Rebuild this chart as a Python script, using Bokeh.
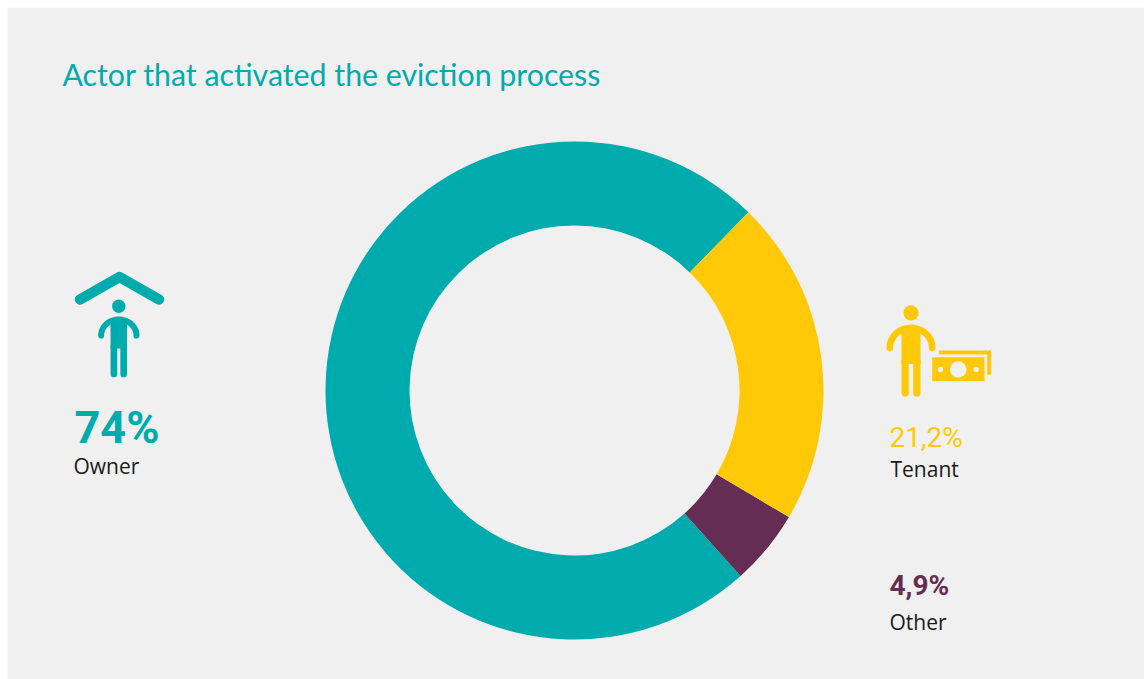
import numpy as np
from bokeh.core.properties import value
from bokeh.embed import file_html
from bokeh.models import ColumnDataSource, Range1d
from bokeh.plotting import figure
from bokeh.resources import INLINE

# Eviction process: who activated it (shares in percent)
categories = ["Owner", "Tenant", "Other"]
shares = [74.0, 21.2, 4.9]
share_labels = ["74%", "21,2%", "4,9%"]
colors = ["#00ABAE", "#FFC907", "#652D53"]
title_text = "Actor that activated the eviction process"

WIDTH, HEIGHT = 1144, 679
PANEL = "#F0F0F0"
TITLE_FONT = "Lato"
NUMBER_FONT = "Roboto"
BODY_FONT = "Open Sans"
BASELINE_SHIFT = 0.38  # the svg text sits this many ems under the requested baseline


def Y(py):
    """Convert a top-down page position to the plot's upward y axis."""
    return HEIGHT - np.asarray(py, dtype=float)


p = figure(width=WIDTH, height=HEIGHT, output_backend="svg", toolbar_location=None,
           x_range=Range1d(0, WIDTH), y_range=Range1d(0, HEIGHT),
           min_border=0, outline_line_color=None, background_fill_color="white",
           border_fill_color="white")
p.axis.visible = False
p.grid.visible = False

# Panel behind the chart
p.quad(left=[7], right=[WIDTH], top=[Y(7)], bottom=[0], fill_color=PANEL, line_color=None)

# Donut: counter-clockwise from the seam 44.3 degrees past north: Owner, Other, Tenant
total = sum(shares)
sweeps = [2 * np.pi * s / total for s in shares]
angle = np.pi / 2 - np.radians(44.3)
wedge_start, wedge_end, wedge_color = [], [], []
for i in [0, 2, 1]:
    wedge_start.append(angle)
    wedge_end.append(angle + sweeps[i])
    wedge_color.append(colors[i])
    angle += sweeps[i]
source = ColumnDataSource(dict(start=wedge_start, end=wedge_end, color=wedge_color))
p.annular_wedge(x=574, y=Y(390), inner_radius=165, outer_radius=249,
                start_angle="start", end_angle="end", fill_color="color",
                line_color=None, source=source)


def person(cx, head_y, head_r, arm_top, hand_y, arm_rx, stroke, body_w, crotch_y, foot_y, leg_w, color):
    """Pictogram of a standing figure: head, curved arms, torso and two legs."""
    t = np.linspace(np.pi, 0, 40)
    p.line(cx + arm_rx * np.cos(t), Y(hand_y - (hand_y - arm_top) * np.sin(t)),
           line_color=color, line_width=stroke, line_cap="round")
    p.ellipse(x=[cx], y=[Y(head_y)], width=2 * head_r, height=2 * head_r,
              fill_color=color, line_color=None)
    p.quad(left=[cx - body_w / 2], right=[cx + body_w / 2], top=[Y(arm_top)],
           bottom=[Y(crotch_y)], fill_color=color, line_color=None)
    offset = body_w / 2 - leg_w / 2
    for side in (-1, 1):
        p.line([cx + side * offset] * 2, Y([crotch_y - 2, foot_y]), line_color=color,
               line_width=leg_w, line_cap="round")


# Owner icon: a figure under a roof
p.line([79.5, 119, 158.5], Y([299, 276.5, 299]), line_color=colors[0], line_width=10.5,
       line_cap="round", line_join="round")
person(118.3, 305.7, 6.7, 319, 335, 17.7, 6, 16.5, 348, 373.5, 6.7, colors[0])

# Tenant icon: a figure beside banknotes
person(910.5, 312.3, 7.6, 327.4, 347.3, 21.2, 6.7, 19, 363.5, 392.5, 7.3, colors[1])
p.line([938.3, 988.7, 988.7], Y([352, 352, 374.3]), line_color=colors[1], line_width=4,
       line_join="miter")
p.quad(left=[931.7], right=[984], top=[Y(356.7)], bottom=[Y(380.7)],
       fill_color=colors[1], line_color=None)
p.ellipse(x=[957.7, 940, 975.7], y=Y([369, 369, 369]), width=[16.6, 5.4, 5.4],
          height=[16.6, 5.4, 5.4], fill_color=PANEL, line_color=None)


def label(x, py, text, size, color, font, style="normal"):
    shifted = py - BASELINE_SHIFT * size
    p.text(x=[x], y=[Y(shifted)], text=[text], text_font=value(font), text_font_size=f"{size}px",
           text_font_style=style, text_color=color, text_baseline="alphabetic", text_align="left")


label(62, 85, title_text, 30.3, colors[0], TITLE_FONT)

label(74, 444, share_labels[0], 45, colors[0], NUMBER_FONT, "bold")
label(73, 473, categories[0], 21, "#1A1A1A", BODY_FONT)
label(889, 448, share_labels[1], 28, colors[1], NUMBER_FONT)
label(890, 476, categories[1], 21, "#1A1A1A", BODY_FONT)
label(889, 596, share_labels[2], 28, colors[2], NUMBER_FONT, "bold")
label(889, 629, categories[2], 21, "#1A1A1A", BODY_FONT)

open("out.html", "w").write(file_html(p, INLINE))
